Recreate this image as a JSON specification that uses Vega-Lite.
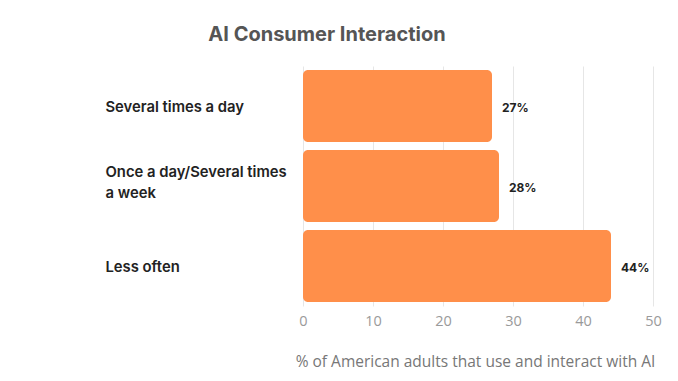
{
  "$schema": "https://vega.github.io/schema/vega-lite/v6.json",
  "width": 350,
  "height": 240,
  "autosize": {"type": "none"},
  "padding": {"left": 303, "top": 66, "right": 25, "bottom": 75},
  "background": "white",
  "title": {
    "text": "AI Consumer Interaction",
    "anchor": "middle",
    "frame": "group",
    "dx": -151,
    "offset": 21,
    "font": "Inter",
    "fontSize": 20,
    "fontWeight": "bold",
    "color": "#555555"
  },
  "data": {
    "values": [
      {"category": "Several times a day", "value": 27},
      {"category": "Once a day/Several times a week", "value": 28},
      {"category": "Less often", "value": 44}
    ]
  },
  "transform": [{"calculate": "datum.value + '%'", "as": "label"}],
  "encoding": {
    "y": {
      "field": "category",
      "type": "nominal",
      "sort": null,
      "scale": {"paddingInner": 0.1, "paddingOuter": 0.05},
      "axis": {
        "title": null,
        "domain": false,
        "ticks": false,
        "tickSize": 0,
        "labelAlign": "left",
        "labelPadding": 198,
        "labelLimit": 220,
        "labelFont": "Inter",
        "labelFontSize": 14.8,
        "labelFontWeight": 600,
        "labelColor": "#222222",
        "labelLineHeight": 21,
        "labelOffset": {
          "condition": {"test": "datum.value == 'Once a day/Several times a week'", "value": -13},
          "value": 2
        },
        "labelExpr": "datum.value == 'Once a day/Several times a week' ? ['Once a day/Several times', 'a week'] : datum.value"
      }
    },
    "x": {
      "field": "value",
      "type": "quantitative",
      "scale": {"domain": [0, 50], "nice": false},
      "axis": {
        "values": [0, 10, 20, 30, 40, 50],
        "title": "% of American adults that use and interact with AI",
        "titleFont": "Open Sans",
        "titleFontSize": 15.5,
        "titleFontWeight": "normal",
        "titleColor": "#777777",
        "titlePadding": 27,
        "titleAnchor": "middle",
        "titleX": 172,
        "domain": false,
        "ticks": false,
        "tickSize": 0,
        "labelPadding": 8,
        "labelFlush": false,
        "labelFont": "Open Sans",
        "labelFontSize": 14.5,
        "labelColor": "#9a9a9a",
        "grid": true,
        "gridColor": "#e6e6e6",
        "gridWidth": 1
      }
    }
  },
  "layer": [
    {
      "mark": {"type": "bar", "color": "#FF8F4A", "cornerRadius": 5}
    },
    {
      "mark": {
        "type": "text",
        "align": "left",
        "baseline": "middle",
        "dx": 10,
        "dy": 2,
        "font": "Inter",
        "fontSize": 12,
        "fontWeight": "bold",
        "color": "#222222"
      },
      "encoding": {"text": {"field": "label", "type": "nominal"}}
    }
  ],
  "config": {"view": {"stroke": null}}
}
